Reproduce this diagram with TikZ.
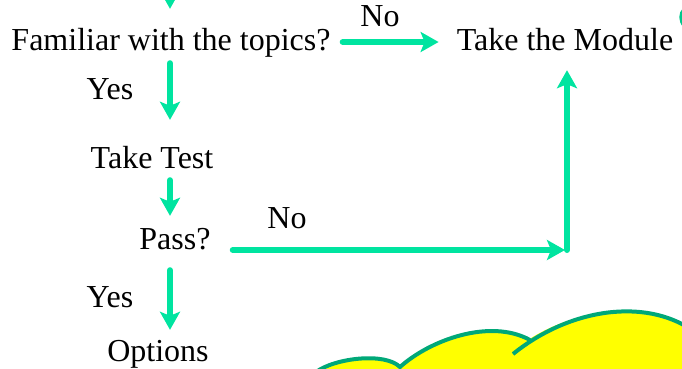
\documentclass[tikz,border=0pt]{standalone}
\usepackage{fontspec}
\setmainfont{Liberation Serif}[Ligatures=TeX]
\newfontfamily\lblfont{Liberation Serif}
\usetikzlibrary{arrows.meta,calc}
\definecolor{arrgreen}{RGB}{0,228,160}
\definecolor{cloudline}{RGB}{0,168,120}
\definecolor{cloudfill}{RGB}{255,255,0}
\definecolor{edgegreen}{RGB}{0,200,140}
\begin{document}
\begin{tikzpicture}[x=1pt,y=-1pt,
  lbl/.style={inner sep=0pt,anchor=base,text height=23pt,text depth=7pt,font=\lblfont\fontsize{32}{36}\selectfont},
  arr/.style={draw=arrgreen,line width=6pt,line cap=round,-{Stealth[length=18pt,width=20pt,inset=4pt]}}]
\useasboundingbox (0,0) rectangle (682,368);
% cloud
\fill[cloudfill] (316,372) .. controls (335,358) and (385,352) .. (400,367)
   .. controls (430,340) and (490,318) .. (528,340)
   .. controls (570,312) and (640,298) .. (692,330) -- (692,372) -- cycle;
\draw[cloudline,line width=4pt] (316,372) .. controls (335,358) and (385,352) .. (400,367)
   .. controls (430,340) and (490,318) .. (530,340);
\draw[cloudline,line width=4pt] (513,354) .. controls (570,308) and (645,298) .. (692,330);
\fill[edgegreen] (683,8) .. controls (678,13) and (678,21) .. (683,27) -- cycle;
% nodes
\node[lbl] (fam) at (171,50) {Familiar with the topics?};
\node[lbl] (mod) at (565,50) {Take the Module};
\node[lbl] (test) at (152,168) {Take Test};
\node[lbl] (pass) at (175,249) {Pass?};
\node[lbl] (opt) at (158,361) {Options};
\node[lbl] (no1) at (380,26) {No};
\node[lbl] (yes1) at (110,99) {Yes};
\node[lbl] (no2) at (287,228) {No};
\node[lbl] (yes2) at (110,307) {Yes};
\coordinate (col) at (170,0);
\coordinate (top) at (170,-20);
\coordinate (corner) at (567,250);
% connectors
\draw[arr,shorten >=18pt] (top) -- (fam.north -| col);
\draw[arr,shorten <=12pt,shorten >=18pt] (fam.east) -- (mod.west);
\draw[arr,shorten <=6pt,shorten >=25pt] (fam.south -| col) -- (test.north -| col);
\draw[arr,shorten <=5pt,shorten >=10pt] (test.south -| col) -- (pass.north -| col);
\draw[arr,shorten <=14pt,shorten >=8pt] (pass.south -| col) -- (opt.north -| col);
\draw[arr,shorten <=22pt,shorten >=2pt] (pass.east |- corner) -- (corner);
\draw[arr,shorten >=13pt] (corner) -- (corner |- mod.south);
\end{tikzpicture}
\end{document}
